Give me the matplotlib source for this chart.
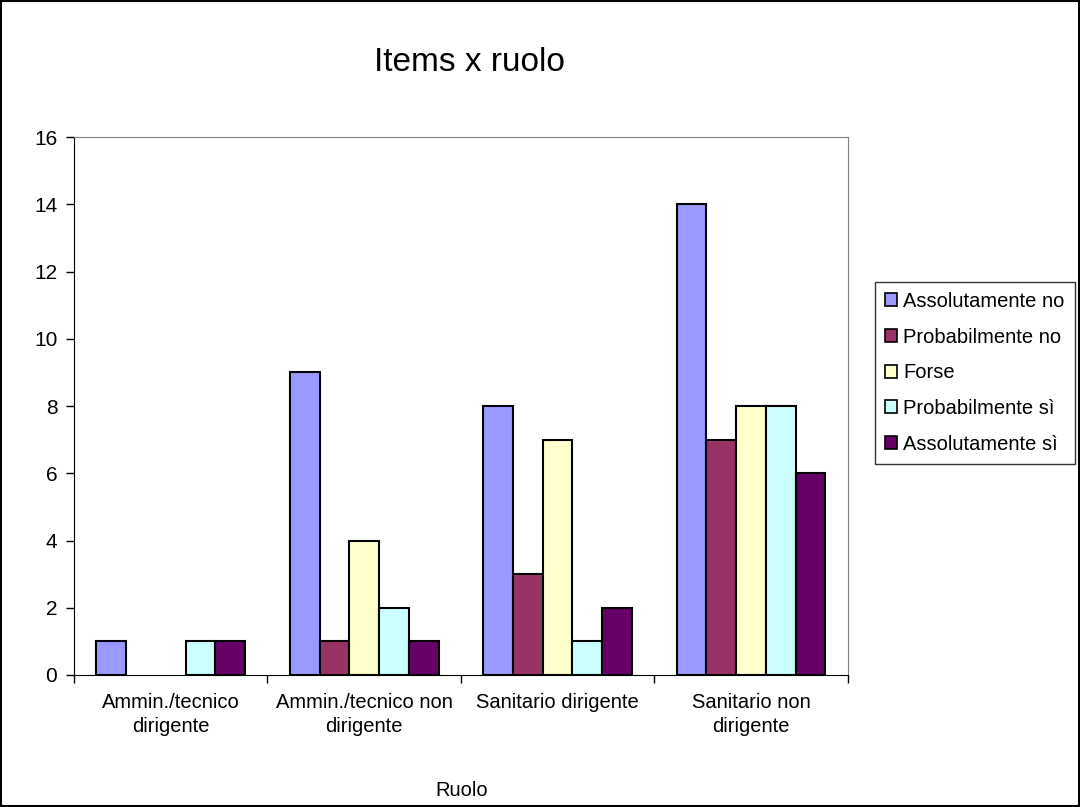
import matplotlib.pyplot as plt
import numpy as np
from matplotlib.patches import Rectangle

plt.rcParams['font.family'] = ['Liberation Sans', 'DejaVu Sans']

categories = ['Ammin./tecnico\ndirigente', 'Ammin./tecnico non\ndirigente',
              'Sanitario dirigente', 'Sanitario non\ndirigente']
series_names = ['Assolutamente no', 'Probabilmente no', 'Forse',
                'Probabilmente sì', 'Assolutamente sì']
assolutamente_no = [1, 9, 8, 14]
probabilmente_no = [0, 1, 3, 7]
forse = [0, 4, 7, 8]
probabilmente_si = [1, 2, 1, 8]
assolutamente_si = [1, 1, 2, 6]
colors = ['#9999FF', '#993366', '#FFFFCC', '#CCFFFF', '#660066']

values = [assolutamente_no, probabilmente_no, forse, probabilmente_si, assolutamente_si]

fig = plt.figure(figsize=(10.8, 8.07), dpi=100)
ax = fig.add_axes([0.0685, 0.1636, 0.7165, 0.6664])

ind = np.arange(len(categories))
width = 1 / 6.5  # excel gap width 150%
for i, (vals, name) in enumerate(zip(values, series_names)):
    bars = ax.bar(ind + (i - 2) * width, vals, width, color=colors[i], edgecolor='black',
                  linewidth=1.5, label=name)
    for b, v in zip(bars, vals):
        if v == 0:
            b.set_linewidth(0)

ax.set_xlim(-0.5, 3.5)
ax.set_ylim(0, 16)
ax.set_yticks(np.arange(0, 17, 2))
ax.tick_params(axis='y', direction='out', length=6, labelsize=15, width=1, pad=6)
ax.set_xticks(ind)
ax.set_xticklabels(categories, linespacing=1.35)
ax.set_xticks(np.arange(-0.5, 3.6, 1), minor=True)
ax.tick_params(axis='x', which='major', length=0, labelsize=14.5, pad=13)
ax.tick_params(axis='x', which='minor', length=6, width=1)
for s in ['top', 'right']:
    ax.spines[s].set_color('#808080')
ax.spines['left'].set_color('black')
ax.spines['bottom'].set_color('black')

fig.text(0.435, 0.923, 'Items x ruolo', fontsize=24, ha='center', va='center')
fig.text(0.4275, 0.021, 'Ruolo', fontsize=14.5, ha='center', va='center')

leg = ax.legend(loc='center left', bbox_to_anchor=(1.035, 0.562), fontsize=14.5,
                frameon=True, fancybox=False, edgecolor='black', handlelength=0.6,
                handleheight=0.6, handletextpad=0.3, labelspacing=0.83,
                borderpad=0.5, borderaxespad=0)
leg.get_frame().set_linewidth(1)
for h in leg.legend_handles:
    h.set_linewidth(1.2)

fig.patches.append(Rectangle((0.001, 0.001), 0.998, 0.998, transform=fig.transFigure,
                             fill=False, edgecolor='black', linewidth=1.5))

plt.savefig('out.png')
